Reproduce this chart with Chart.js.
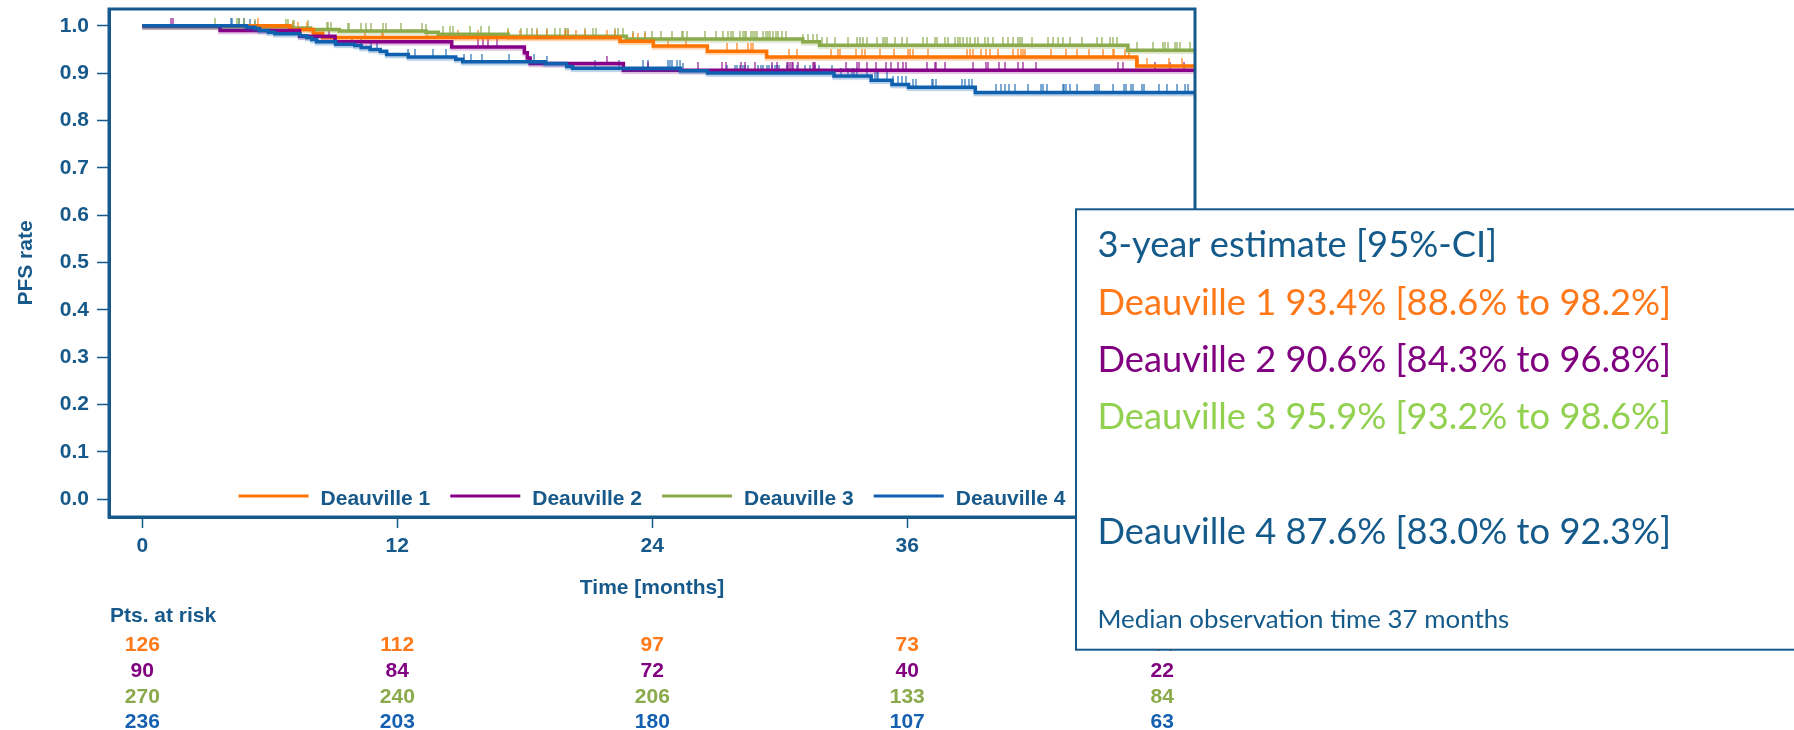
<!DOCTYPE html>
<html>
<head>
<meta charset="utf-8">
<script src="https://cdn.jsdelivr.net/npm/chart.js@4.4.0/dist/chart.umd.min.js"></script>
<style>
  html, body { margin: 0; padding: 0; background: #ffffff; overflow: hidden; }
  canvas { display: block; }
</style>
</head>
<body>
<canvas id="km" width="1794" height="730"></canvas>
<script>
// ---- Axis ticks -------------------------------------------------------
const monthTicks = [0, 12, 24, 36, 48];
const rateTicks = [0, 0.1, 0.2, 0.3, 0.4, 0.5, 0.6, 0.7, 0.8, 0.9, 1.0];

// ---- Groups -----------------------------------------------------------
const groupNames = ['Deauville 1', 'Deauville 2', 'Deauville 3', 'Deauville 4'];

// Kaplan-Meier steps: time of each event (months) and PFS rate from then on
const d1Times = [0, 6.95, 8.05, 8.49, 22.48, 24.05, 26.59, 29.38, 46.80];
const d1Surv  = [1.000, 0.992, 0.984, 0.975, 0.967, 0.957, 0.946, 0.934, 0.915];

const d2Times = [0, 3.66, 7.40, 9.07, 14.56, 17.98, 18.12, 18.25, 22.64];
const d2Surv  = [1.000, 0.990, 0.978, 0.966, 0.955, 0.943, 0.932, 0.920, 0.906];

const d3Times = [0, 4.83, 7.03, 7.92, 9.27, 13.35, 13.93, 17.22, 22.78, 31.08, 31.87, 46.38];
const d3Surv  = [1.000, 0.998, 0.995, 0.992, 0.989, 0.986, 0.982, 0.978, 0.972, 0.966, 0.959, 0.948];

const d4Times = [0, 4.91, 5.30, 5.51, 5.93, 6.24, 7.42, 7.74, 7.97, 8.20, 9.10, 10.00, 10.30, 10.72,
                 11.20, 11.50, 12.52, 14.75, 15.08, 18.95, 19.97, 20.25, 25.32, 26.60, 32.55, 34.30,
                 35.28, 36.06, 39.20];
const d4Surv  = [1.000, 0.997, 0.994, 0.990, 0.986, 0.983, 0.979, 0.975, 0.971, 0.966, 0.961, 0.958,
                 0.954, 0.950, 0.946, 0.939, 0.934, 0.929, 0.924, 0.920, 0.914, 0.910, 0.905, 0.900,
                 0.894, 0.885, 0.876, 0.870, 0.859];

// End of follow-up for each group (months)
const lastFollowUp = [49.6, 49.6, 49.6, 49.6];

// Censored observations (months)
const d1Censor = [5.43, 7.11, 7.31, 7.77, 10.48, 11.27, 11.34, 13.38, 14.87, 15.81, 17.23, 17.77, 18.56,
  19.03, 19.89, 20.05, 20.41, 20.83, 21.89, 22.25, 23.08, 23.34, 23.66, 24.76, 25.59, 27.53, 27.97, 28.52,
  28.63, 28.76, 30.45, 30.83, 32.39, 32.75, 32.83, 33.59, 33.85, 34.01, 34.72, 35.38, 36.02, 36.13, 36.25,
  36.99, 38.79, 38.95, 39.11, 39.45, 39.70, 39.89, 40.29, 40.99, 41.22, 41.33, 41.46, 41.54, 42.75, 43.47,
  43.97, 44.57, 45.19, 45.66, 45.73, 46.23, 46.45, 46.87, 47.26, 48.33, 48.91];

const d2Censor = [1.35, 1.46, 8.80, 15.81, 16.05, 16.25, 16.71, 21.89, 23.81, 26.17, 27.27, 27.47, 28.16,
  28.36, 28.83, 29.62, 29.85, 30.32, 30.40, 30.48, 30.56, 30.64, 30.87, 31.55, 31.63, 31.67, 33.12, 33.62,
  33.74, 34.09, 34.53, 35.00, 35.22, 35.58, 35.81, 35.94, 36.91, 37.30, 37.35, 37.78, 39.08, 39.70, 39.81,
  40.33, 40.60, 41.22, 41.46, 42.04, 45.93, 46.17, 47.66, 48.36, 49.04];

const d3Censor = [3.42, 4.47, 4.57, 4.79, 5.30, 6.75, 6.84, 7.11, 7.16, 7.81, 8.68, 8.76, 8.87, 9.70, 9.74,
  10.28, 10.53, 10.75, 11.34, 11.45, 12.17, 13.15, 13.35, 14.17, 14.48, 14.64, 15.42, 15.92, 16.32, 17.23,
  17.82, 18.09, 18.32, 18.56, 19.03, 19.42, 19.66, 19.89, 19.94, 20.05, 20.83, 21.19, 21.35, 22.25, 22.40,
  22.64, 23.11, 23.66, 23.97, 24.41, 24.91, 25.38, 25.46, 25.65, 26.50, 27.00, 27.34, 27.58, 27.70, 27.81,
  28.13, 28.25, 28.36, 28.41, 28.63, 28.72, 28.83, 28.91, 29.23, 29.35, 29.46, 29.54, 29.66, 29.81, 29.93,
  30.09, 30.29, 31.11, 31.34, 31.58, 31.74, 31.97, 32.21, 32.60, 33.23, 33.62, 33.78, 33.93, 34.09, 34.56,
  34.87, 34.95, 35.03, 35.42, 35.74, 35.97, 36.76, 36.91, 37.30, 37.38, 37.78, 37.93, 38.25, 38.40, 38.48,
  38.64, 38.79, 38.95, 39.19, 39.34, 39.66, 39.81, 40.05, 40.52, 40.75, 40.99, 41.22, 41.30, 41.38, 41.85,
  42.64, 42.87, 43.11, 43.34, 43.66, 44.21, 44.91, 45.15, 45.54, 45.70, 45.85, 46.79, 47.58, 48.05, 48.13,
  48.28, 48.60, 48.68, 48.83, 49.30];

const d4Censor = [4.17, 4.24, 4.57, 4.79, 5.07, 5.30, 9.88, 10.28, 10.75, 11.03, 12.52, 12.83, 13.66, 14.29,
  15.14, 15.45, 15.97, 17.26, 18.45, 19.06, 21.30, 22.43, 23.58, 23.81, 24.76, 24.83, 24.91, 25.15, 25.30,
  25.46, 27.50, 27.89, 28.00, 28.13, 28.25, 28.36, 28.52, 28.99, 29.10, 29.23, 29.38, 29.51, 29.62, 29.77,
  29.85, 29.98, 30.32, 30.79, 31.19, 31.42, 31.66, 31.86, 32.44, 32.86, 33.23, 33.38, 33.49, 33.62, 34.12,
  34.48, 34.56, 34.64, 35.06, 35.34, 35.58, 35.74, 35.94, 36.25, 36.41, 37.15, 37.23, 37.35, 38.56, 38.72,
  38.92, 39.03, 40.17, 40.41, 40.60, 40.80, 41.07, 41.70, 42.28, 42.40, 42.56, 43.31, 43.37, 43.47, 43.66,
  44.00, 44.83, 44.91, 45.04, 45.66, 46.20, 46.29, 46.51, 46.64, 47.03, 47.14, 47.86, 48.21, 48.71, 49.07,
  49.22];

// Patients at risk at each month tick
const d1AtRisk = [126, 112, 97, 73, 44];
const d2AtRisk = [90, 84, 72, 40, 22];
const d3AtRisk = [270, 240, 206, 133, 84];
const d4AtRisk = [236, 203, 180, 107, 63];

// 3-year estimates
const estimateTitle = '3-year estimate [95%-CI]';
const estimateLines = [
  'Deauville 1 93.4% [88.6% to 98.2%]',
  'Deauville 2 90.6% [84.3% to 96.8%]',
  'Deauville 3 95.9% [93.2% to 98.6%]',
  'Deauville 4 87.6% [83.0% to 92.3%]'
];
const medianNote = 'Median observation time 37 months';

// ---- Styling ------------------------------------------------------------
const AXIS = '#17598A';
const LINE_COLORS = ['#FF7300', '#880088', '#8AAA4B', '#1060B0'];
const TICK_COLORS = ['rgba(255,125,20,0.6)', 'rgba(136,0,136,0.55)', 'rgba(138,170,75,0.6)', 'rgba(16,96,176,0.55)'];
const HALO_COLORS = ['rgba(255,115,0,0.30)', 'rgba(136,0,136,0.25)', 'rgba(138,170,75,0.30)', 'rgba(16,96,176,0.30)'];
const RISK_COLORS = ['#FF7A1A', '#800080', '#8AAA4B', '#1560B0'];
const BOX_COLORS = ['#FF7819', '#800080', '#92D050', '#145A8A'];
const BOLD = 'bold 21px "Liberation Sans", Arial, sans-serif';

const X_MIN = -1.567, X_MAX = 49.54;
const Y_MIN = -0.0374, Y_MAX = 1.0353;

// ---- Helpers --------------------------------------------------------------
function survivalAt(times, surv, t) {
  let v = surv[0];
  for (let i = 0; i < times.length; i++) { if (times[i] <= t) v = surv[i]; }
  return v;
}
function stepPoints(times, surv, end) {
  const pts = times.map((t, i) => ({ x: t, y: surv[i] }));
  pts.push({ x: end, y: surv[surv.length - 1] });
  return pts;
}
function censorPoints(times, surv, censor) {
  return censor.map(t => ({ x: t, y: survivalAt(times, surv, t) }));
}
// small vertical mark rising from the curve
function censorMark(color) {
  const c = document.createElement('canvas');
  c.width = 2; c.height = 16;
  const g = c.getContext('2d');
  g.fillStyle = color;
  g.fillRect(0, 0, 2, 8);
  return c;
}

const groups = [
  { times: d1Times, surv: d1Surv, censor: d1Censor },
  { times: d2Times, surv: d2Surv, censor: d2Censor },
  { times: d3Times, surv: d3Surv, censor: d3Censor },
  { times: d4Times, surv: d4Surv, censor: d4Censor }
];
const atRisk = [d1AtRisk, d2AtRisk, d3AtRisk, d4AtRisk];
const curveOrder = [2, 1, 3, 0];

const datasets = [];
groups.forEach((g, i) => {
  datasets.push({
    label: groupNames[i],
    data: stepPoints(g.times, g.surv, lastFollowUp[i]),
    // horizontal at the previous rate, then drop at the event time
    stepped: 'before',
    borderColor: LINE_COLORS[i],
    backgroundColor: LINE_COLORS[i],
    borderWidth: 3.5,
    pointRadius: 0,
    fill: false,
    halo: HALO_COLORS[i],
    order: curveOrder[i]
  });
});
groups.forEach((g, i) => {
  datasets.push({
    label: groupNames[i] + ' censored',
    data: censorPoints(g.times, g.surv, g.censor),
    showLine: false,
    pointStyle: censorMark(TICK_COLORS[i]),
    pointRadius: 3,
    censored: true,
    order: 10
  });
});

// ---- Plugins ----------------------------------------------------------------
const haloPlugin = {
  id: 'halo',
  beforeDatasetDraw(chart, args) {
    const ds = chart.data.datasets[args.index];
    if (!ds.halo) return;
    chart.ctx.save();
    chart.ctx.shadowColor = ds.halo;
    chart.ctx.shadowOffsetY = 2;
    chart.ctx.shadowBlur = 1;
  },
  afterDatasetDraw(chart, args) {
    const ds = chart.data.datasets[args.index];
    if (ds.halo) chart.ctx.restore();
  }
};

const framePlugin = {
  id: 'frame',
  afterDraw(chart) {
    const { ctx, chartArea: a } = chart;
    ctx.save();
    ctx.strokeStyle = AXIS;
    ctx.lineWidth = 3;
    ctx.strokeRect(a.left, a.top, a.right - a.left, a.bottom - a.top);
    ctx.restore();
  }
};

const legendPlugin = {
  id: 'insideLegend',
  afterDraw(chart) {
    const { ctx, chartArea: a } = chart;
    const curves = chart.data.datasets.filter(d => !d.censored);
    const lineLen = 70, gap = 12, itemGap = 20;
    ctx.save();
    ctx.font = BOLD;
    const widths = curves.map(d => lineLen + gap + ctx.measureText(d.label).width);
    const total = widths.reduce((s, w) => s + w, 0) + itemGap * (curves.length - 1);
    let x = (a.left + a.right) / 2 - total / 2;
    const y = a.bottom - 21;
    curves.forEach((d, i) => {
      ctx.strokeStyle = d.borderColor;
      ctx.lineWidth = 3;
      ctx.beginPath();
      ctx.moveTo(x, y);
      ctx.lineTo(x + lineLen, y);
      ctx.stroke();
      ctx.fillStyle = AXIS;
      ctx.textAlign = 'left';
      ctx.textBaseline = 'alphabetic';
      ctx.fillText(d.label, x + lineLen + gap, y + 9);
      x += widths[i] + itemGap;
    });
    ctx.restore();
  }
};

const textPlugin = {
  id: 'axisTextAndRisk',
  afterDraw(chart) {
    const { ctx, chartArea: a, scales } = chart;
    ctx.save();
    ctx.font = BOLD;
    ctx.fillStyle = AXIS;
    ctx.textBaseline = 'alphabetic';
    // y-axis title
    ctx.save();
    ctx.translate(31.5, (a.top + a.bottom) / 2);
    ctx.rotate(-Math.PI / 2);
    ctx.textAlign = 'center';
    ctx.fillText('PFS rate', 0, 0);
    ctx.restore();
    // x-axis title
    ctx.textAlign = 'center';
    ctx.fillText('Time [months]', (a.left + a.right) / 2, 594);
    // patients at risk
    ctx.textAlign = 'left';
    ctx.fillText('Pts. at risk', a.left + 1, 621.7);
    const rowBase = [651, 677.3, 703.3, 728.3];
    ctx.textAlign = 'center';
    atRisk.forEach((row, r) => {
      ctx.fillStyle = RISK_COLORS[r];
      row.forEach((n, c) => {
        ctx.fillText(String(n), scales.x.getPixelForValue(monthTicks[c]), rowBase[r]);
      });
    });
    ctx.restore();
  }
};

const estimatePlugin = {
  id: 'estimateBox',
  afterDraw(chart) {
    const ctx = chart.ctx;
    const left = 1076, top = 209.3, bottom = 649.7;
    ctx.save();
    ctx.fillStyle = '#ffffff';
    ctx.fillRect(left, top, 900, bottom - top);
    ctx.strokeStyle = AXIS;
    ctx.lineWidth = 2;
    ctx.strokeRect(left, top, 900, bottom - top);

    const family = 'Lato, "Open Sans", sans-serif';
    ctx.font = '100px ' + family;
    const mainSize = 100 * 574 / ctx.measureText(estimateLines[0]).width;
    const noteSize = 100 * 412 / ctx.measureText(medianNote).width;
    const tx = 1097.5;
    ctx.textAlign = 'left';
    ctx.textBaseline = 'alphabetic';
    ctx.font = mainSize.toFixed(2) + 'px ' + family;
    ctx.fillStyle = '#145A8A';
    ctx.fillText(estimateTitle, tx, 257.3);
    const bases = [315, 371.7, 429, 544.3];
    estimateLines.forEach((s, i) => {
      ctx.fillStyle = BOX_COLORS[i];
      ctx.fillText(s, tx, bases[i]);
    });
    ctx.font = noteSize.toFixed(2) + 'px ' + family;
    ctx.fillStyle = '#145A8A';
    ctx.fillText(medianNote, tx, 628.3);
    ctx.restore();
  }
};

// ---- Chart --------------------------------------------------------------------
new Chart(document.getElementById('km'), {
  type: 'line',
  data: { datasets },
  options: {
    responsive: false,
    animation: false,
    devicePixelRatio: 1,
    layout: { padding: { top: 9, right: 599, bottom: 0, left: 0 } },
    scales: {
      x: {
        type: 'linear',
        min: X_MIN,
        max: X_MAX,
        afterBuildTicks(s) { s.ticks = monthTicks.map(v => ({ value: v })); },
        afterFit(s) { s.height = 213; s.paddingLeft = 0; s.paddingRight = 0; },
        grid: { drawOnChartArea: false, drawTicks: true, tickLength: 11, tickColor: AXIS, tickWidth: 1.5 },
        border: { display: true, color: AXIS, width: 3 },
        ticks: { color: AXIS, font: { family: '"Liberation Sans", Arial, sans-serif', size: 21, weight: 'bold' },
                 padding: 6, maxRotation: 0, autoSkip: false }
      },
      y: {
        type: 'linear',
        min: Y_MIN,
        max: Y_MAX,
        afterBuildTicks(s) { s.ticks = rateTicks.map(v => ({ value: v })); },
        afterFit(s) { s.width = 109; s.paddingTop = 0; s.paddingBottom = 0; },
        grid: { drawOnChartArea: false, drawTicks: true, tickLength: 12, tickColor: AXIS, tickWidth: 1.5 },
        border: { display: true, color: AXIS, width: 3 },
        ticks: { color: AXIS, font: { family: '"Liberation Sans", Arial, sans-serif', size: 21, weight: 'bold' },
                 padding: 8, autoSkip: false, callback: v => Number(v).toFixed(1) }
      }
    },
    plugins: { legend: { display: false }, tooltip: { enabled: false } }
  },
  plugins: [haloPlugin, framePlugin, legendPlugin, textPlugin, estimatePlugin]
});
</script>
</body>
</html>
